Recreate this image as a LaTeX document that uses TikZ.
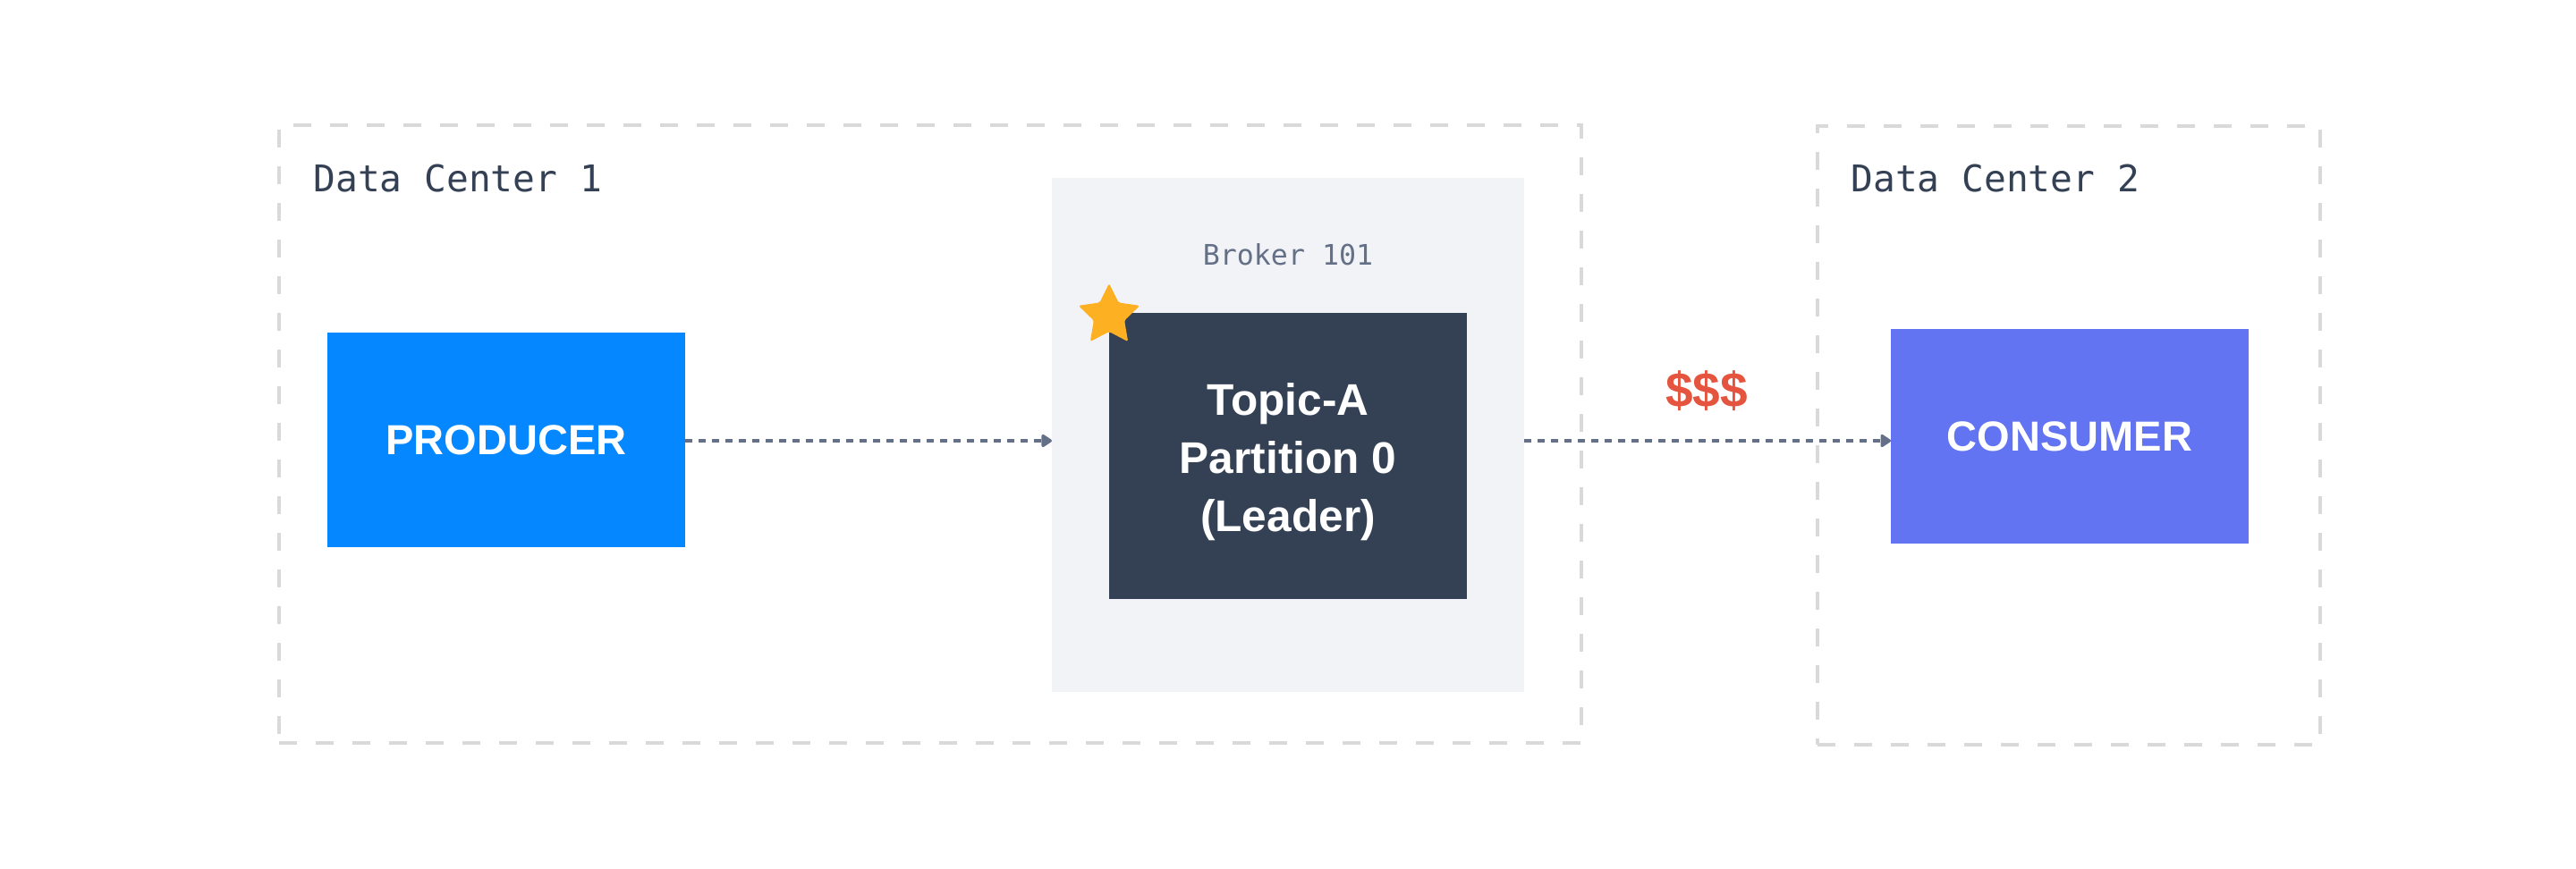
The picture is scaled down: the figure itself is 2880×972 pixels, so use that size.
\documentclass[tikz,border=0pt]{standalone}
\usepackage{fontspec}
\setmainfont{Liberation Sans}
\newfontfamily\monof{DejaVu Sans Mono}
\usetikzlibrary{arrows.meta,shapes.geometric}
\definecolor{dcline}{RGB}{217,217,217}
\definecolor{brokerfill}{RGB}{242,243,247}
\definecolor{topicfill}{RGB}{52,65,85}
\definecolor{prodblue}{RGB}{5,135,255}
\definecolor{consblue}{RGB}{99,116,242}
\definecolor{arrowc}{RGB}{100,112,135}
\definecolor{labeldark}{RGB}{52,65,85}
\definecolor{labelgray}{RGB}{100,112,135}
\definecolor{staramber}{RGB}{252,176,34}
\definecolor{costred}{RGB}{229,84,62}
\begin{document}
\begin{tikzpicture}[x=0.5pt,y=-0.5pt,
  dcbox/.style={draw=dcline, line width=2pt, dash pattern=on 10pt off 10.5pt, inner sep=0pt, outer sep=0pt},
  block/.style={inner sep=0pt, outer sep=0pt, minimum width=200pt, minimum height=120pt, text=white,
    font=\bfseries\fontsize{23.5pt}{28pt}\selectfont},
  dclabel/.style={inner sep=0pt, anchor=base west, text=labeldark, font=\monof\fontsize{20.6pt}{24pt}\selectfont},
  flow/.style={draw=arrowc, line width=1.75pt, dash pattern=on 4pt off 3.5pt,
    -{Triangle[length=6.5pt,width=8pt,round]}}
]
\useasboundingbox (0,0) rectangle (2880,972);
\fill[white] (0,0) rectangle (2880,972);

% data centers
\node[dcbox, minimum width=728pt, minimum height=345.5pt] (dc1) at (1040,485.5) {};
\node[dcbox, minimum width=281pt, minimum height=346pt] (dc2) at (2313,487) {};
\node[dclabel] (dc1label) at (350,215) {Data Center 1};
\node[dclabel] (dc2label) at (2069,215) {Data Center 2};

% broker
\node[fill=brokerfill, inner sep=0pt, outer sep=0pt, minimum width=264pt, minimum height=287.5pt] (broker) at (1440,486.5) {};
\node[inner sep=0pt, anchor=base, text=labelgray, font=\monof\fontsize{15.8pt}{19pt}\selectfont] (brokerlabel) at (1440,297) {Broker 101};

% topic partition
\node[fill=topicfill, inner sep=0pt, outer sep=0pt, minimum width=200pt, minimum height=160pt] (topic) at (1440,510) {};
\node[align=center, text=white, inner sep=0pt, font=\bfseries\fontsize{24.8pt}{32.5pt}\selectfont] (topiclabel) at (1440,517) {Topic-A\\Partition 0\\(Leader)};

% leader star
\node[star, star points=5, star point ratio=2.0, fill=staramber, inner sep=0pt, minimum size=36pt, rounded corners=1.2pt] (star) at ([yshift=-1.5pt]topic.north west) {};

% producer & consumer
\node[block, fill=prodblue] (producer) at (566,492) {PRODUCER};
\node[block, fill=consblue] (consumer) at (2314,488) {CONSUMER};

% connectors
\coordinate (lvl) at (0,493);
\draw[flow] (producer.east |- lvl) -- (broker.west |- lvl);
\draw[flow] (broker.east |- lvl) -- (consumer.west |- lvl);

\node[inner sep=0pt, anchor=base, text=costred, font=\bfseries\fontsize{27.5pt}{32pt}\selectfont] (cost) at (1908,456) {\$\$\$};
\end{tikzpicture}
\end{document}
